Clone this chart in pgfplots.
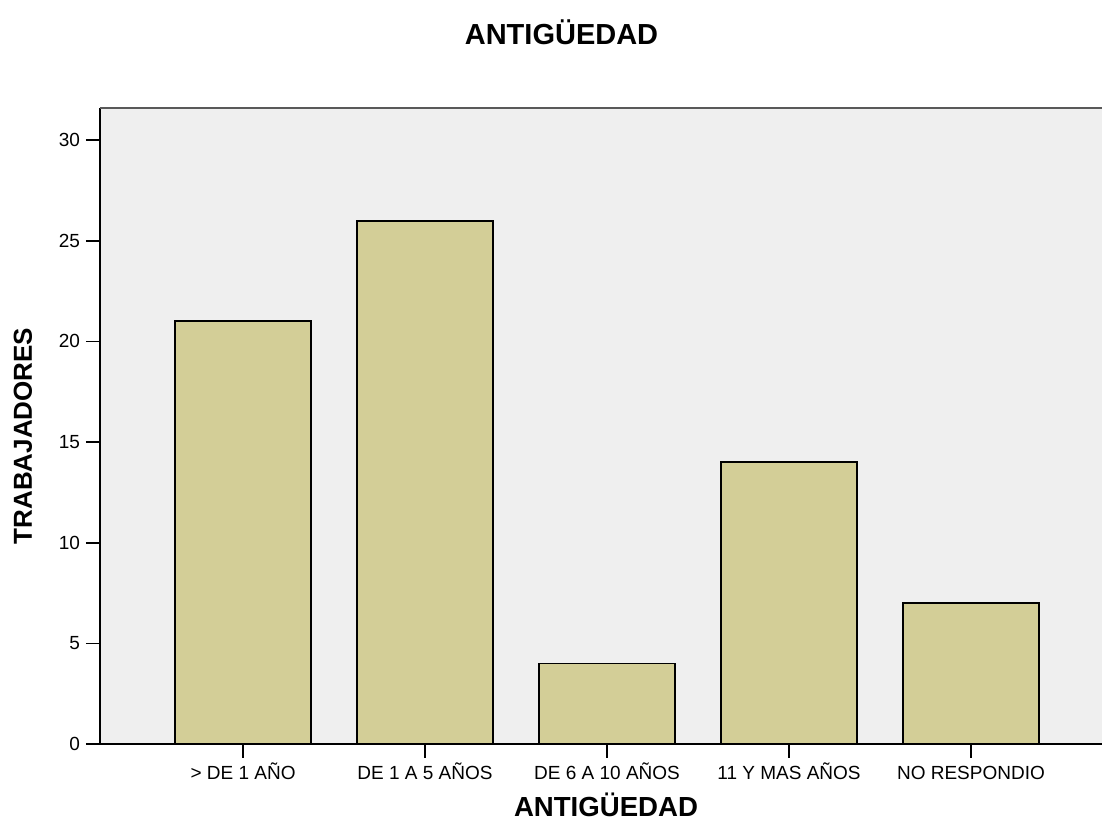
\documentclass[border=0pt]{standalone}
\usepackage{pgfplots}
\pgfplotsset{compat=1.18}
\usepackage{fontspec}
\setmainfont{Liberation Sans}
\definecolor{barfill}{RGB}{211,206,151}
\definecolor{bgc}{RGB}{239,239,239}
\begin{document}
\begin{tikzpicture}
\path[use as bounding box] (0,0) rectangle (551pt,411.5pt);
\begin{axis}[
  at={(50pt,39.5pt)}, anchor=south west,
  scale only axis, width=501pt, height=318pt,
  xmin=-0.786, xmax=4.72, ymin=0, ymax=31.6,
  axis background/.style={fill=bgc},
  axis x line*=bottom, axis y line*=left,
  axis line style={black, line width=0.8pt},
  xtick=data,
  xticklabels={> DE 1 AÑO, DE 1 A 5 AÑOS, DE 6 A 10 AÑOS, 11 Y MAS AÑOS, NO RESPONDIO},
  ytick={0,5,10,15,20,25,30},
  tick style={black, line width=0.8pt},
  tick align=outside,
  major tick length=7pt,
  tick label style={font=\fontsize{9.5}{11}\selectfont},
  xticklabel style={text height=7pt, text depth=0pt, inner sep=0pt, yshift=-3.5pt},
  yticklabel style={xshift=0.5pt},
  /pgf/number format/assume math mode=true,
  ybar, bar width=0.75, bar shift=0pt,
  clip=false,
]
\addplot[fill=barfill, draw=black, line width=0.9pt] coordinates {(0,21) (1,26) (2,4) (3,14) (4,7)};
\draw[gray!70!black, line width=1pt] (rel axis cs:0,1) -- (rel axis cs:1,1);
\end{axis}
\node[font=\bfseries\fontsize{13.8}{16}\selectfont] at (303pt,9pt) {ANTIGÜEDAD};
\node[font=\bfseries\fontsize{14.5}{16}\selectfont] at (280.75pt,395.5pt) {ANTIGÜEDAD};
\node[font=\bfseries\fontsize{13}{15}\selectfont, rotate=90] at (11.5pt,193.5pt) {TRABAJADORES};
\end{tikzpicture}
\end{document}
